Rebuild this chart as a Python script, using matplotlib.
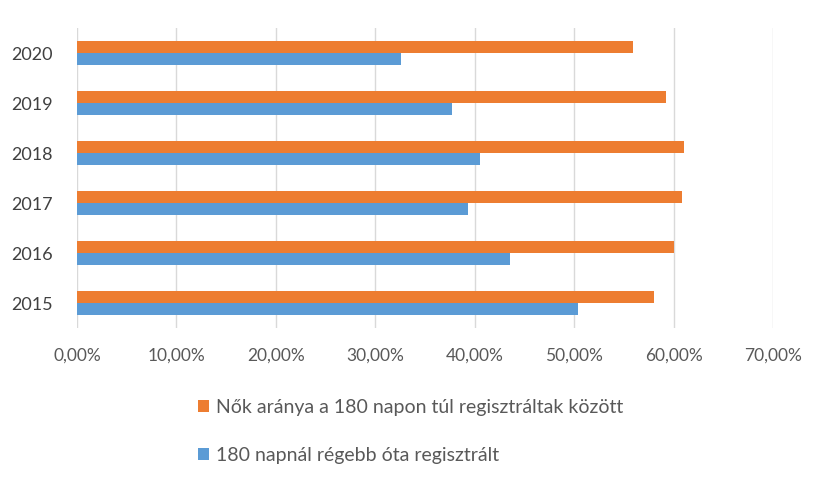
import matplotlib.pyplot as plt
import numpy as np

plt.rcParams['font.family'] = ['Lato', 'DejaVu Sans']

evek = ['2015', '2016', '2017', '2018', '2019', '2020']
nok_aranya = [0.580, 0.600, 0.609, 0.611, 0.592, 0.559]
regebb_ota = [0.504, 0.436, 0.393, 0.405, 0.377, 0.326]
x_tickek = [0.0, 0.1, 0.2, 0.3, 0.4, 0.5, 0.6, 0.7]

narancs = '#ED7D31'
kek = '#5B9BD5'
szurke = '#595959'

fig = plt.figure(figsize=(8.21, 4.79), dpi=100)
ax = fig.add_axes([0.0938, 0.3152, 0.8477, 0.6263])

y = np.arange(len(evek))
h = 0.24
b1 = ax.barh(y + h / 2, nok_aranya, height=h, color=narancs,
             label='Nők aránya a 180 napon túl regisztráltak között')
b2 = ax.barh(y - h / 2, regebb_ota, height=h, color=kek,
             label='180 napnál régebb óta regisztrált')

ax.set_xlim(0, 0.7)
ax.set_ylim(-0.5, len(evek) - 0.5)
ax.set_xticks(x_tickek)
ax.set_xticklabels([f'{v * 100:.2f}%'.replace('.', ',') for v in x_tickek])
ax.set_yticks(y)
ax.set_yticklabels(evek)
ax.tick_params(axis='x', length=0, pad=14, labelsize=12.5, colors=szurke)
ax.tick_params(axis='y', length=0, pad=17.5, labelsize=13, colors='#404040')

ax.grid(axis='x', color='#D9D9D9', linewidth=1)
ax.set_axisbelow(True)
for s in ax.spines.values():
    s.set_visible(False)

# legend under the axes, anchored in figure coords
fig.legend(handles=[b1, b2], loc='center left', bbox_to_anchor=(0.241, 0.099),
           frameon=False, fontsize=14, labelcolor=szurke,
           handlelength=0.55, handleheight=0.55, handletextpad=0.4,
           labelspacing=1.6, borderaxespad=0, borderpad=0)

plt.savefig('out.png', dpi=100)
